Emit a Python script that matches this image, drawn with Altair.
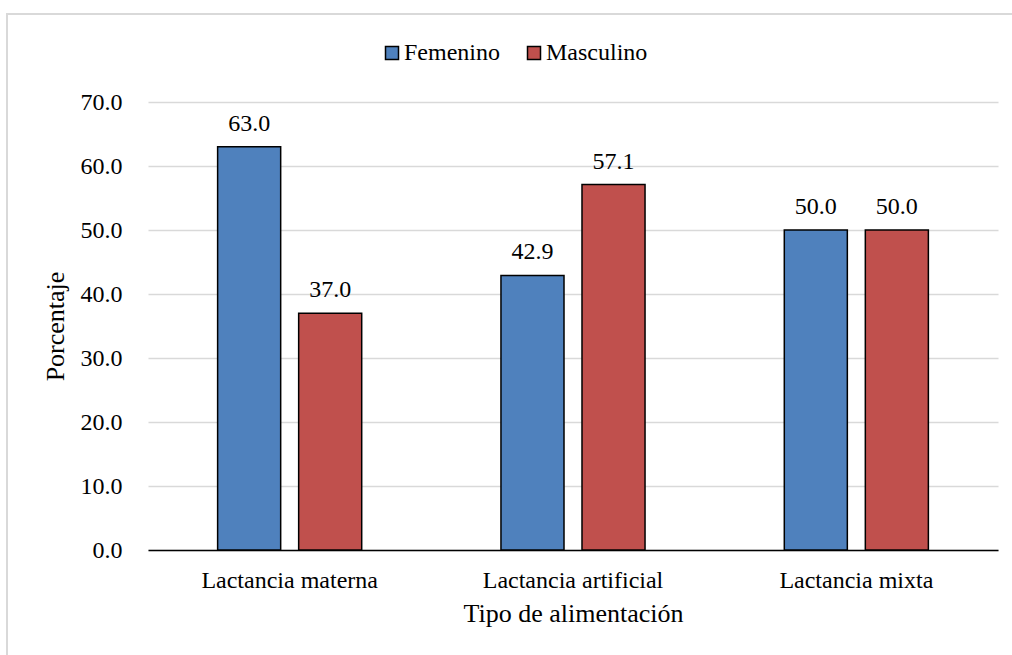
import altair as alt
import pandas as pd

categories = ["Lactancia materna", "Lactancia artificial", "Lactancia mixta"]
series = ["Femenino", "Masculino"]
femenino = [63.0, 42.9, 50.0]
masculino = [37.0, 57.1, 50.0]
colors = ["#4F81BD", "#C0504D"]
y_ticks = [0, 10, 20, 30, 40, 50, 60, 70]

rows = []
for c, f, m in zip(categories, femenino, masculino):
    rows.append({"cat": c, "sexo": "Femenino", "val": f})
    rows.append({"cat": c, "sexo": "Masculino", "val": m})
df = pd.DataFrame(rows)

FONT = "Liberation Serif"

x = alt.X("cat:N", sort=categories,
          scale=alt.Scale(paddingInner=0.428, paddingOuter=0.214),
          axis=alt.Axis(title="Tipo de alimentación", labelAngle=0, ticks=False,
                        domain=True, domainColor="#000000", domainWidth=1.5,
                        labelPadding=18, titlePadding=8, grid=False, labelLimit=400))
xo = alt.XOffset("sexo:N", sort=series,
                 scale=alt.Scale(paddingInner=0.222, paddingOuter=0.111))
y = alt.Y("val:Q", scale=alt.Scale(domain=[0, 70]),
          axis=alt.Axis(title="Porcentaje", values=y_ticks, format=".1f",
                        ticks=False, domain=False, grid=True,
                        gridColor="#d9d9d9", gridWidth=1.5,
                        labelPadding=26, titlePadding=12))

bars = alt.Chart(df).mark_bar(stroke="#000000", strokeWidth=1.5).encode(
    x=x, xOffset=xo, y=y,
    color=alt.Color("sexo:N", sort=series,
                    scale=alt.Scale(domain=series, range=colors),
                    legend=alt.Legend(title=None, orient="none", direction="horizontal",
                                      legendX=232, legendY=-61,
                                      symbolType="square", symbolSize=169,
                                      symbolStrokeColor="#000000", symbolStrokeWidth=1.5,
                                      symbolOpacity=1, labelFontSize=24, labelFont=FONT,
                                      labelColor="#000000", columnPadding=22,
                                      labelOffset=0)),
)

labels = alt.Chart(df).mark_text(baseline="alphabetic", dy=-16, fontSize=24,
                                  font=FONT, color="#000000").encode(
    x=alt.X("cat:N", sort=categories), xOffset=alt.XOffset("sexo:N", sort=series),
    y="val:Q", text=alt.Text("val:Q", format=".1f"),
)

border = alt.Chart(pd.DataFrame({"a": [0]})).mark_rect(
    fill=None, stroke="#d9d9d9", strokeWidth=2
).encode(x=alt.value(-141), x2=alt.value(900), y=alt.value(-88), y2=alt.value(600))

chart = alt.layer(border, bars, labels).properties(
    width=850, height=448,
    autosize=alt.AutoSizeParams(type="none"),
    padding={"left": 148, "top": 102, "right": 14, "bottom": 105},
).configure_view(stroke=None).configure_axis(
    labelFont=FONT, titleFont=FONT, labelFontSize=24, titleFontSize=26,
    labelColor="#000000", titleColor="#000000", titleFontWeight="normal",
).configure_legend(labelFont=FONT)

chart.save("out.html", embed_options={"renderer": "svg", "actions": False})
